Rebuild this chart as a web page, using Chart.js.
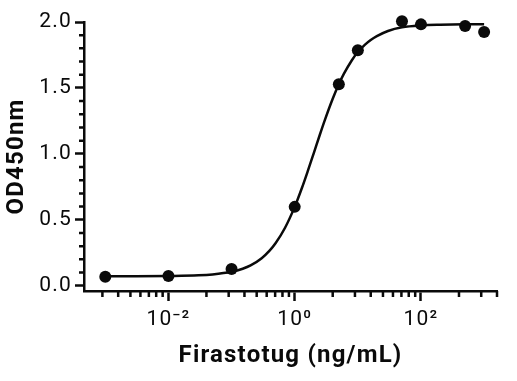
<!DOCTYPE html>
<html>
<head>
<meta charset="utf-8">
<script src="https://cdn.jsdelivr.net/npm/chart.js@4/dist/chart.umd.min.js"></script>
<style>
  html, body { margin: 0; padding: 0; background: #fff; }
  #wrap { width: 517px; height: 381px; }
</style>
</head>
<body>
<div id="wrap"><canvas id="c" width="517" height="381"></canvas></div>
<script>
// Measured points (concentration ng/mL, OD450nm)
const pointX = [0.001, 0.01, 0.1, 1, 5, 10, 50, 100, 500, 1000];
const pointY = [0.068, 0.073, 0.126, 0.598, 1.528, 1.786, 2.005, 1.982, 1.970, 1.924];

// Fitted curve
const curveX = [0.001, 0.003, 0.01, 0.03, 0.05, 0.1, 0.15, 0.2, 0.3, 0.4, 0.5, 0.7, 1, 1.3, 1.6, 2, 2.5, 3, 4, 5, 6, 8, 10, 13, 16, 20, 30, 50, 100, 200, 500, 1000];
const curveY = [0.072, 0.072, 0.074, 0.079, 0.086, 0.106, 0.129, 0.154, 0.209, 0.266, 0.324, 0.438, 0.598, 0.741, 0.865, 1.004, 1.145, 1.256, 1.418, 1.528, 1.606, 1.708, 1.772, 1.829, 1.864, 1.893, 1.932, 1.960, 1.975, 1.980, 1.982, 1.982];

// Axes
const xMajorTicks = [0.01, 1, 100];
const xTickLabels = ['10\u207B\u00B2', '10\u2070', '10\u00B2'];
const xMinorTicks = [0.0009, 0.0016, 0.0025, 0.0036, 0.0049, 0.0064, 0.0081,
                     0.04, 0.09, 0.16, 0.25, 0.36, 0.49, 0.64, 0.81,
                     4, 9, 16, 25, 36, 49, 64, 81,
                     400, 900, 1600];
const yMajorTicks = [0, 0.5, 1.0, 1.5, 2.0];
const yMinorTicks = [0.1, 0.2, 0.3, 0.4, 0.6, 0.7, 0.8, 0.9, 1.1, 1.2, 1.3, 1.4, 1.6, 1.7, 1.8, 1.9];

const xTitle = 'Firastotug (ng/mL)';
const yTitle = 'OD450nm';

const INK = '#0a0a0a';

const spacingPlugin = {
  id: 'spacing',
  beforeDraw(chart) { chart.ctx.letterSpacing = '1.2px'; },
  afterDraw(chart) { chart.ctx.letterSpacing = '0px'; }
};

const minorTickPlugin = {
  id: 'minorTicks',
  afterDraw(chart) {
    const ctx = chart.ctx;
    const xs = chart.scales.x, ys = chart.scales.y;
    ctx.save();
    ctx.strokeStyle = INK;
    ctx.lineWidth = 2.5;
    ctx.beginPath();
    xMinorTicks.forEach(v => {
      const px = xs.getPixelForValue(v);
      ctx.moveTo(px, xs.top);
      ctx.lineTo(px, xs.top + 6);
    });
    yMinorTicks.forEach(v => {
      const py = ys.getPixelForValue(v);
      ctx.moveTo(ys.right, py);
      ctx.lineTo(ys.right - 5, py);
    });
    ctx.stroke();
    ctx.restore();
  }
};

const tickFont = { family: 'Roboto', size: 21 };
const titleFont = { family: 'Roboto', size: 24, weight: 'bold' };

new Chart(document.getElementById('c'), {
  data: {
    datasets: [
      {
        type: 'line',
        data: curveX.map((x, i) => ({ x: x, y: curveY[i] })),
        borderColor: INK,
        borderWidth: 2.5,
        pointRadius: 0,
        cubicInterpolationMode: 'monotone',
        fill: false,
        clip: false
      },
      {
        type: 'scatter',
        data: pointX.map((x, i) => ({ x: x, y: pointY[i] })),
        backgroundColor: INK,
        borderColor: INK,
        pointRadius: 6,
        borderWidth: 0,
        clip: false
      }
    ]
  },
  options: {
    responsive: false,
    maintainAspectRatio: false,
    animation: false,
    layout: { padding: { top: 22, right: 20, bottom: 0, left: 0 } },
    plugins: { legend: { display: false }, tooltip: { enabled: false } },
    scales: {
      x: {
        type: 'logarithmic',
        position: 'bottom',
        min: 0.00046,
        max: 1600,
        afterBuildTicks: s => { s.ticks = xMajorTicks.map(v => ({ value: v })); },
        afterFit: s => { s.height = 90; },
        ticks: {
          autoSkip: false,
          maxRotation: 0,
          font: tickFont,
          color: INK,
          padding: 6,
          callback: (v, i) => xTickLabels[i]
        },
        grid: { display: true, drawOnChartArea: false, drawTicks: true, tickLength: 10, tickWidth: 2.5, tickColor: INK },
        border: { display: true, width: 2.5, color: INK },
        title: { display: true, text: xTitle, font: titleFont, color: INK, padding: { top: 0, bottom: 11 } }
      },
      y: {
        type: 'linear',
        position: 'left',
        min: -0.04,
        max: 2.0,
        afterBuildTicks: s => { s.ticks = yMajorTicks.map(v => ({ value: v })); },
        afterFit: s => { s.width = 84; },
        ticks: {
          font: tickFont,
          color: INK,
          padding: 3,
          callback: v => Number(v).toFixed(1)
        },
        grid: { display: true, drawOnChartArea: false, drawTicks: true, tickLength: 9, tickWidth: 2.5, tickColor: INK },
        border: { display: true, width: 2.5, color: INK },
        title: { display: true, text: yTitle, font: titleFont, color: INK, padding: { top: 3, bottom: 0 } }
      }
    }
  },
  plugins: [spacingPlugin, minorTickPlugin]
});
</script>
</body>
</html>
